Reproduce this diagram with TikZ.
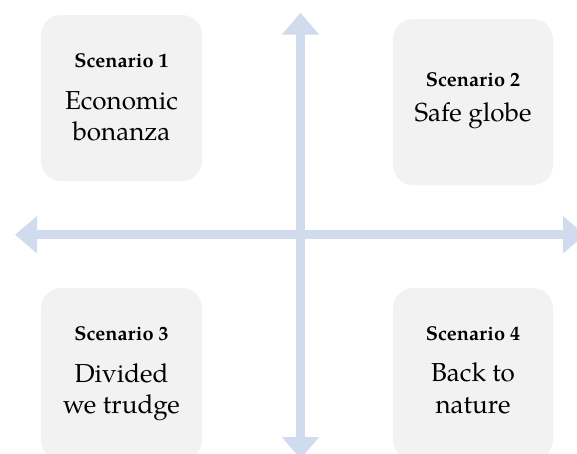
\documentclass[tikz,border=0pt]{standalone}
\usepackage{fontspec}
\setmainfont{TeX Gyre Pagella}
\usetikzlibrary{arrows.meta}
\definecolor{axisblue}{RGB}{208,220,238}
\definecolor{boxgray}{RGB}{242,242,242}
\tikzset{
  scenbox/.style={fill=boxgray, draw=none, rounded corners=20pt, inner sep=0pt, outer sep=0pt},
  axisarrow/.style={draw=axisblue, line width=9pt, {Triangle[width=36pt,length=22pt]}-{Triangle[width=36pt,length=22pt]}},
  headtext/.style={font=\fontsize{20}{24}\selectfont\bfseries, anchor=base, inner sep=0pt},
  bodytext/.style={font=\fontsize{26}{31}\selectfont, anchor=base, inner sep=0pt},
}
\begin{document}
\begin{tikzpicture}[x=1pt, y=-1pt]
\useasboundingbox (0,0) rectangle (577,453);
% axes
\coordinate (vtop) at (300.5,12.7);
\coordinate (vbot) at (300.5,459);
\coordinate (hleft) at (15,234.7);
\coordinate (hright) at (585,234.7);
\draw[axisarrow] (hleft) -- (hright);
\draw[axisarrow] (vtop) -- (vbot);
% boxes
\path[scenbox] (41,15) rectangle (202,181);
\path[scenbox] (393,19) rectangle (553,185);
\path[scenbox] (41,288) rectangle (202,460);
\path[scenbox] (393,288) rectangle (553,460);
% texts
\node[headtext] (h1) at (121.5,67) {Scenario 1};
\node[bodytext] (t1a) at (121.5,109) {Economic};
\node[bodytext] (t1b) at (121.5,140) {bonanza};
\node[headtext] (h2) at (473,86) {Scenario 2};
\node[bodytext] (t2a) at (473,121.7) {Safe globe};
\node[headtext] (h3) at (121.5,340) {Scenario 3};
\node[bodytext] (t3a) at (121.5,382.7) {Divided};
\node[bodytext] (t3b) at (121.5,413) {we trudge};
\node[headtext] (h4) at (473,340) {Scenario 4};
\node[bodytext] (t4a) at (473,381.7) {Back to};
\node[bodytext] (t4b) at (473,413) {nature};
\end{tikzpicture}
\end{document}
